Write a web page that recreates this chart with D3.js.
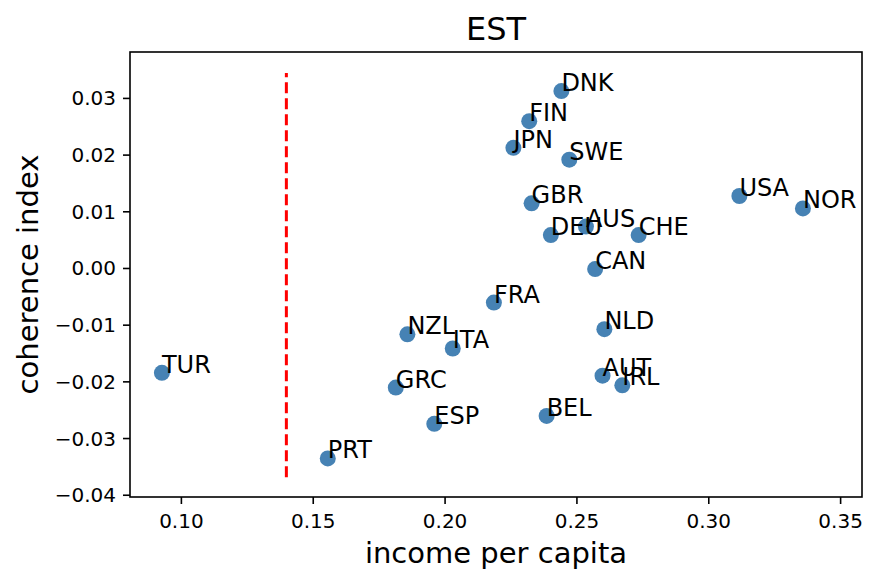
<!DOCTYPE html>
<html>
<head>
<meta charset="utf-8">
<script src="https://cdn.jsdelivr.net/npm/d3@7/dist/d3.min.js"></script>
<style>
  html, body { margin: 0; padding: 0; background: #fff; }
  svg { display: block; font-family: "DejaVu Sans", sans-serif; }
</style>
</head>
<body>
<svg id="chart" width="885" height="584"></svg>
<script>
// ---- data ----
const countries = ["TUR","PRT","GRC","NZL","ITA","ESP","FRA","JPN","FIN","GBR","DNK","SWE","DEU","AUS","CHE","CAN","USA","NOR","NLD","AUT","IRL","BEL"];
const income    = [0.0928,0.1557,0.1815,0.1859,0.2031,0.1961,0.2187,0.2261,0.2321,0.2330,0.2443,0.2473,0.2403,0.2536,0.2736,0.2571,0.3118,0.3359,0.2606,0.2599,0.2674,0.2387];
const coherence = [-0.0185,-0.0336,-0.0211,-0.0117,-0.0142,-0.0275,-0.0061,0.0212,0.0259,0.0114,0.0312,0.0191,0.0058,0.0073,0.0058,-0.0002,0.0127,0.0105,-0.0108,-0.0190,-0.0207,-0.0261];
const xTicks = [0.10,0.15,0.20,0.25,0.30,0.35];
const yTicks = [-0.04,-0.03,-0.02,-0.01,0.00,0.01,0.02,0.03];
const thresholdX = 0.14;
const thresholdY = [-0.0369, 0.0344];
const title = "EST";
const xLabel = "income per capita";
const yLabel = "coherence index";

// ---- layout ----
const L = 130, R = 862, T = 52, B = 497;
const svg = d3.select("#chart");
const x = d3.scaleLinear().domain([0.0807, 0.3583]).range([L, R]);
const y = d3.scaleLinear().domain([-0.0404, 0.0381]).range([B, T]);

const fmtMinus = s => s.replace("-", "\u2212");

// axes
const xAxis = svg.append("g").attr("transform", `translate(0,${B})`)
  .call(d3.axisBottom(x).tickValues(xTicks).tickFormat(d3.format(".2f")).tickSize(7).tickPadding(7).tickSizeOuter(0));
const yAxis = svg.append("g").attr("transform", `translate(${L},0)`)
  .call(d3.axisLeft(y).tickValues(yTicks).tickFormat(d => fmtMinus(d3.format(".2f")(d))).tickSize(7).tickPadding(7).tickSizeOuter(0));
[xAxis, yAxis].forEach(g => {
  g.select(".domain").remove();
  g.selectAll(".tick line").attr("stroke", "#000").attr("stroke-width", 1.6);
  g.selectAll(".tick text").attr("fill", "#000").style("font-size", "20px").style("font-family", "DejaVu Sans");
});
xAxis.selectAll(".tick text").attr("dy", null).attr("y", 31);
yAxis.selectAll(".tick text").attr("dy", "0.35em");

// threshold line
svg.append("line")
  .attr("x1", x(thresholdX)).attr("x2", x(thresholdX))
  .attr("y1", y(thresholdY[0])).attr("y2", y(thresholdY[1]))
  .attr("stroke", "red").attr("stroke-width", 3)
  .attr("stroke-dasharray", "11,5");

// points
const data = countries.map((c, i) => ({c, x: income[i], y: coherence[i]}));
svg.append("g").selectAll("circle").data(data).join("circle")
  .attr("cx", d => x(d.x)).attr("cy", d => y(d.y)).attr("r", 8)
  .attr("fill", "steelblue");
svg.append("g").selectAll("text").data(data).join("text")
  .attr("x", d => x(d.x)).attr("y", d => y(d.y))
  .style("font-size", "24px").attr("fill", "#000")
  .text(d => d.c);

// frame
svg.append("rect").attr("x", L).attr("y", T).attr("width", R - L).attr("height", B - T)
  .attr("fill", "none").attr("stroke", "#000").attr("stroke-width", 1.6);

// labels
svg.append("text").attr("x", (L + R) / 2).attr("y", 40).attr("text-anchor", "middle")
  .style("font-size", "32px").text(title);
svg.append("text").attr("x", (L + R) / 2).attr("y", 563).attr("text-anchor", "middle")
  .style("font-size", "29px").text(xLabel);
svg.append("text").attr("transform", `translate(38,${(T + B) / 2}) rotate(-90)`)
  .attr("text-anchor", "middle").style("font-size", "29px").text(yLabel);
</script>
</body>
</html>
